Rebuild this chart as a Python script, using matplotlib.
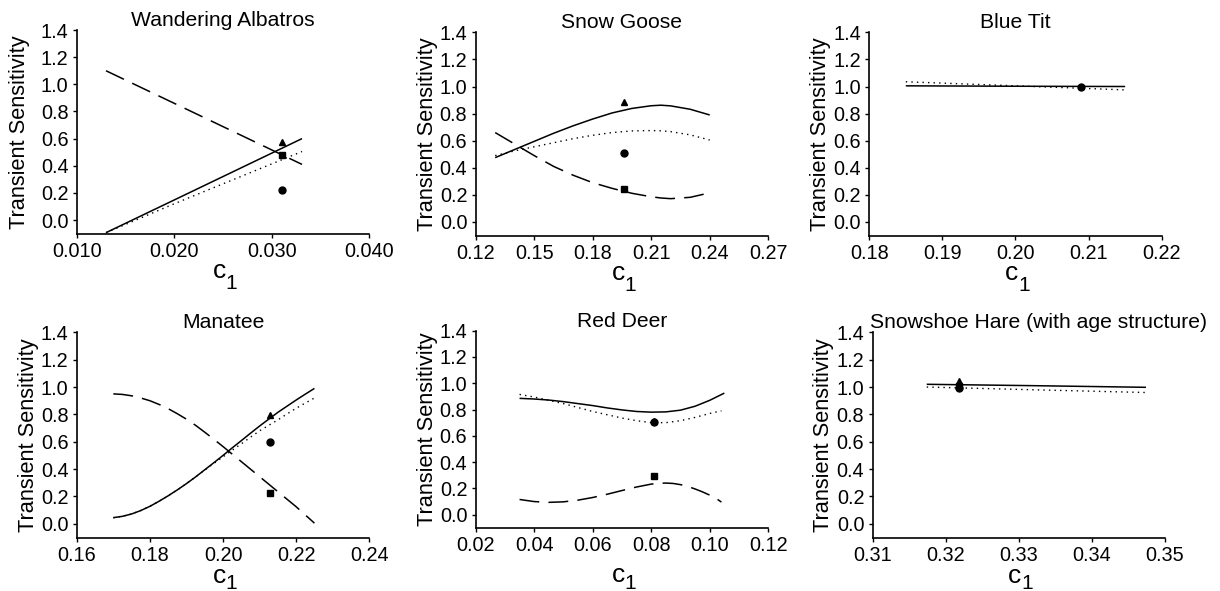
import matplotlib
matplotlib.use("Agg")
import matplotlib.pyplot as plt

plt.rcParams["font.family"] = ["Liberation Sans", "DejaVu Sans"]

y_ticks = [0.0, 0.2, 0.4, 0.6, 0.8, 1.0, 1.2, 1.4]
y_tick_labels = ["0.0", "0.2", "0.4", "0.6", "0.8", "1.0", "1.2", "1.4"]

# Wandering Albatros
alb_x = [0.0130, 0.0200, 0.0331]
alb_solid = [-0.093, 0.148, 0.600]
alb_dotted = [-0.093, 0.120, 0.505]
alb_dashed = [1.100, 0.860, 0.410]
alb_pt_x = 0.0310
alb_pts = {"tri": 0.575, "sq": 0.482, "circ": 0.224}
alb_xticks = [0.010, 0.020, 0.030, 0.040]
alb_xlabels = ["0.010", "0.020", "0.030", "0.040"]

# Snow Goose
goose_x = [0.13, 0.14, 0.15, 0.16, 0.17, 0.18, 0.19, 0.20, 0.21, 0.215, 0.22, 0.23, 0.24]
goose_solid = [0.475, 0.535, 0.595, 0.655, 0.71, 0.76, 0.805, 0.838, 0.858, 0.862, 0.857, 0.832, 0.79]
goose_dotted = [0.49, 0.525, 0.555, 0.585, 0.615, 0.64, 0.66, 0.672, 0.675, 0.673, 0.667, 0.643, 0.605]
goose_dashed = [0.66, 0.575, 0.49, 0.41, 0.345, 0.29, 0.248, 0.212, 0.186, 0.177, 0.172, 0.182, 0.215]
goose_pt_x = 0.196
goose_pts = {"tri": 0.885, "sq": 0.24, "circ": 0.51}
goose_xticks = [0.12, 0.15, 0.18, 0.21, 0.24, 0.27]
goose_xlabels = ["0.12", "0.15", "0.18", "0.21", "0.24", "0.27"]

# Blue Tit
tit_x = [0.185, 0.200, 0.215]
tit_solid = [1.005, 1.002, 1.0]
tit_dotted = [1.035, 1.005, 0.975]
tit_pt_x = 0.2089
tit_pts = {"circ": 1.0}
tit_xticks = [0.18, 0.19, 0.20, 0.21, 0.22]
tit_xlabels = ["0.18", "0.19", "0.20", "0.21", "0.22"]

# Manatee
man_x = [0.170, 0.1725, 0.175, 0.1775, 0.180, 0.1825, 0.185, 0.1875, 0.190, 0.1925, 0.195, 0.1975,
         0.200, 0.2025, 0.205, 0.2075, 0.210, 0.2125, 0.215, 0.2175, 0.220, 0.2225, 0.225]
man_solid = [0.045, 0.055, 0.072, 0.097, 0.128, 0.165, 0.205, 0.248, 0.294, 0.343, 0.395, 0.447,
             0.50, 0.555, 0.608, 0.662, 0.715, 0.765, 0.815, 0.86, 0.905, 0.948, 0.99]
man_dotted = [0.045, 0.055, 0.072, 0.097, 0.128, 0.165, 0.205, 0.248, 0.294, 0.343, 0.393, 0.442,
              0.49, 0.538, 0.585, 0.633, 0.68, 0.72, 0.76, 0.803, 0.845, 0.883, 0.92]
man_dashed = [0.95, 0.946, 0.936, 0.92, 0.90, 0.873, 0.842, 0.805, 0.765, 0.72, 0.67, 0.618,
              0.565, 0.51, 0.455, 0.40, 0.345, 0.29, 0.235, 0.18, 0.125, 0.065, 0.005]
man_pt_x = 0.2128
man_pts = {"tri": 0.795, "sq": 0.228, "circ": 0.597}
man_xticks = [0.16, 0.18, 0.20, 0.22, 0.24]
man_xlabels = ["0.16", "0.18", "0.20", "0.22", "0.24"]

# Red Deer
deer_x = [0.035, 0.040, 0.045, 0.050, 0.055, 0.060, 0.065, 0.070, 0.075, 0.080, 0.085, 0.090, 0.095, 0.100, 0.105]
deer_solid = [0.885, 0.88, 0.872, 0.86, 0.845, 0.83, 0.812, 0.797, 0.785, 0.78, 0.782, 0.795, 0.825, 0.87, 0.925]
deer_dot_x = [0.035, 0.040, 0.045, 0.050, 0.055, 0.060, 0.065, 0.070, 0.075, 0.080, 0.085, 0.090, 0.095, 0.100, 0.104]
deer_dotted = [0.915, 0.895, 0.87, 0.845, 0.815, 0.785, 0.76, 0.735, 0.715, 0.70, 0.70, 0.715, 0.74, 0.77, 0.79]
deer_dash_x = [0.035, 0.040, 0.045, 0.050, 0.055, 0.060, 0.065, 0.070, 0.075, 0.080, 0.0825, 0.085,
               0.0875, 0.090, 0.0925, 0.095, 0.0975, 0.100, 0.1025, 0.104]
deer_dashed = [0.115, 0.099, 0.093, 0.097, 0.11, 0.13, 0.155, 0.183, 0.21, 0.232, 0.238, 0.24,
               0.237, 0.228, 0.214, 0.195, 0.173, 0.148, 0.118, 0.095]
deer_pt_x = 0.0808
deer_pts = {"tri": 0.71, "sq": 0.295, "circ": 0.705}
deer_xticks = [0.02, 0.04, 0.06, 0.08, 0.10, 0.12]
deer_xlabels = ["0.02", "0.04", "0.06", "0.08", "0.10", "0.12"]

# Snowshoe Hare
hare_x = [0.3174, 0.3320, 0.3474]
hare_solid = [1.02, 1.01, 0.998]
hare_dotted = [1.0, 0.98, 0.96]
hare_pt_x = 0.3218
hare_pts = {"tri": 1.045, "sq": 1.01, "circ": 0.99}
hare_xticks = [0.31, 0.32, 0.33, 0.34, 0.35]
hare_xlabels = ["0.31", "0.32", "0.33", "0.34", "0.35"]

markers = {"tri": "^", "sq": "s", "circ": "o"}
marker_sizes = {"tri": 5, "sq": 4.5, "circ": 5}

PX = 72 / 100  # points per pixel at dpi 100


def draw_panel(ax, title, xticks, xlabels, lines, pt_x, pts,
               title_loc="center", ylabelpad=1.5, c_drop=44, sub_drop=55):
    for x, y, style in lines:
        if style == "solid":
            ax.plot(x, y, color="black", lw=1.1, solid_capstyle="butt")
        elif style == "dotted":
            ax.plot(x, y, color="black", lw=1.0, linestyle=(0, (1, 3)))
        else:
            ax.plot(x, y, color="black", lw=1.1, linestyle=(0, (13, 6)))
    for key, val in pts.items():
        ax.plot(pt_x, val, marker=markers[key], ms=marker_sizes[key], color="black", ls="none")

    ax.set_xlim(xticks[0], xticks[-1])
    ax.set_ylim(-0.1, 1.4)
    ax.set_xticks(xticks)
    ax.set_xticklabels(xlabels)
    ax.set_yticks(y_ticks)
    ax.set_yticklabels(y_tick_labels)
    ax.spines["top"].set_visible(False)
    ax.spines["right"].set_visible(False)
    ax.spines["left"].set_linewidth(1.2)
    ax.spines["bottom"].set_linewidth(1.2)
    ax.tick_params(labelsize=14.3, length=3, width=1, direction="out", pad=3)
    if title_loc == "left":
        ax.set_title(title, fontsize=15.2, pad=2.5, loc="left", x=-0.01)
    else:
        ax.set_title(title, fontsize=15.2, pad=2.5)
    ax.set_ylabel("Transient Sensitivity", fontsize=15.7, labelpad=ylabelpad)
    # x label "c" with a large subscript "1"
    ax.annotate("c", xy=(0.5, 0), xycoords="axes fraction", xytext=(2, -c_drop * PX),
                textcoords="offset points", ha="right", va="baseline", fontsize=19)
    ax.annotate("1", xy=(0.5, 0), xycoords="axes fraction", xytext=(2, -sub_drop * PX),
                textcoords="offset points", ha="left", va="baseline", fontsize=15)


fig = plt.figure(figsize=(12.2, 5.91), dpi=100)

ax1 = fig.add_axes([0.0629, 0.6047, 0.2398, 0.3445])
draw_panel(ax1, "Wandering Albatros", alb_xticks, alb_xlabels,
           [(alb_x, alb_dashed, "dashed"), (alb_x, alb_dotted, "dotted"), (alb_x, alb_solid, "solid")],
           alb_pt_x, alb_pts, ylabelpad=8)

ax2 = fig.add_axes([0.3899, 0.6015, 0.2398, 0.3438])
draw_panel(ax2, "Snow Goose", goose_xticks, goose_xlabels,
           [(goose_x, goose_dashed, "dashed"), (goose_x, goose_dotted, "dotted"), (goose_x, goose_solid, "solid")],
           goose_pt_x, goose_pts)

ax3 = fig.add_axes([0.7125, 0.6015, 0.2397, 0.3438])
draw_panel(ax3, "Blue Tit", tit_xticks, tit_xlabels,
           [(tit_x, tit_dotted, "dotted"), (tit_x, tit_solid, "solid")],
           tit_pt_x, tit_pts)

ax4 = fig.add_axes([0.0629, 0.0905, 0.2398, 0.3472])
draw_panel(ax4, "Manatee", man_xticks, man_xlabels,
           [(man_x, man_dashed, "dashed"), (man_x, man_dotted, "dotted"), (man_x, man_solid, "solid")],
           man_pt_x, man_pts, c_drop=45, sub_drop=51)

ax5 = fig.add_axes([0.3899, 0.1071, 0.2398, 0.3333])
draw_panel(ax5, "Red Deer", deer_xticks, deer_xlabels,
           [(deer_dash_x, deer_dashed, "dashed"), (deer_dot_x, deer_dotted, "dotted"), (deer_x, deer_solid, "solid")],
           deer_pt_x, deer_pts, c_drop=54.5, sub_drop=61)

ax6 = fig.add_axes([0.7153, 0.0905, 0.2396, 0.3472])
draw_panel(ax6, "Snowshoe Hare (with age structure)", hare_xticks, hare_xlabels,
           [(hare_x, hare_dotted, "dotted"), (hare_x, hare_solid, "solid")],
           hare_pt_x, hare_pts, title_loc="left", c_drop=45, sub_drop=51)

fig.savefig("out.png", dpi=100)
